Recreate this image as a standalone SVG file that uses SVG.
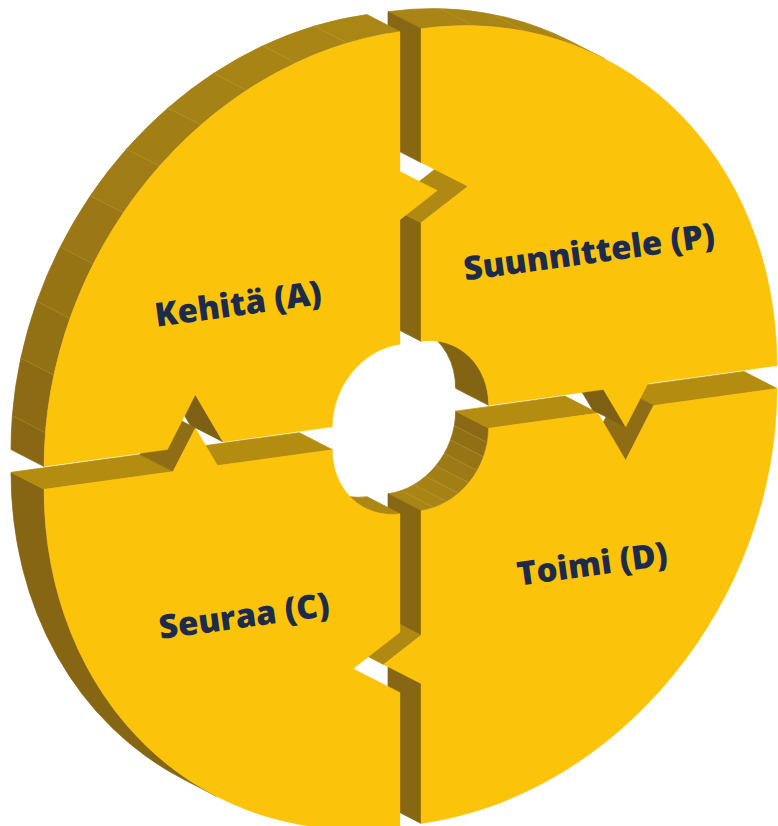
<svg xmlns="http://www.w3.org/2000/svg" width="778" height="826" viewBox="0 0 778 826">
<style>
.fr{fill:#FCC30B;stroke:#FCC30B;stroke-width:0.4px;vector-effect:non-scaling-stroke}
.sd{stroke-width:0.7px;vector-effect:non-scaling-stroke;stroke-linejoin:round}
.dk{fill:#876614;stroke:#876614}
.dd{fill:#7E6014;stroke:#7E6014}
.md{fill:#8F6D14;stroke:#8F6D14}
.gd{fill:#B38C10;stroke:#B38C10}
.gt{fill:#AF8911;stroke:#AF8911}
.pi{fill:#836413;stroke:#836413}
.ci{fill:#AC8714;stroke:#AC8714}
.po{fill:#A98515;stroke:#A98515}
.co{fill:#866513;stroke:#866513}
.fl{fill:none;stroke:#D2B257;stroke-opacity:0.45;stroke-width:0.6px;vector-effect:non-scaling-stroke}
.lbl{font-family:"Open Sans","Noto Sans","Liberation Sans",sans-serif;font-weight:800;font-size:33px;fill:#1C2B4A;text-anchor:middle;dominant-baseline:central}
</style>
<rect width="778" height="826" fill="#FFFFFF"/>

<g id="node-D">
 <g transform="matrix(3.56,-0.49,0,3.86,410.5,427.5) translate(2.95,2.95)">
  <path class="sd" fill="#8A6914" stroke="#8A6914" d="M19,0 A19,19 0 0 1 18.64,3.71 L9.37,-1.87 A19,19 0 0 0 9.73,-5.58 Z"/>
  <path class="sd" fill="#916F14" stroke="#916F14" d="M18.64,3.71 A19,19 0 0 1 17.55,7.27 L8.28,1.69 A19,19 0 0 0 9.37,-1.87 Z"/>
  <path class="sd" fill="#977515" stroke="#977515" d="M17.55,7.27 A19,19 0 0 1 15.80,10.56 L6.53,4.98 A19,19 0 0 0 8.28,1.69 Z"/>
  <path class="sd" fill="#9D7A15" stroke="#9D7A15" d="M15.80,10.56 A19,19 0 0 1 13.43,13.43 L4.16,7.85 A19,19 0 0 0 6.53,4.98 Z"/>
  <path class="sd" fill="#A27F15" stroke="#A27F15" d="M13.43,13.43 A19,19 0 0 1 10.56,15.80 L1.29,10.22 A19,19 0 0 0 4.16,7.85 Z"/>
  <path class="sd" fill="#A68215" stroke="#A68215" d="M10.56,15.80 A19,19 0 0 1 7.27,17.55 L-2.00,11.97 A19,19 0 0 0 1.29,10.22 Z"/>
  <path class="sd" fill="#A88515" stroke="#A88515" d="M7.27,17.55 A19,19 0 0 1 3.71,18.64 L-5.56,13.06 A19,19 0 0 0 -2.00,11.97 Z"/>
  <path class="sd" fill="#AA8615" stroke="#AA8615" d="M3.71,18.64 A19,19 0 0 1 0,19 L-9.27,13.42 A19,19 0 0 0 -5.56,13.06 Z"/>
  <path class="fl" d="M18.64,3.71 L9.37,-1.87 M17.55,7.27 L8.28,1.69 M15.80,10.56 L6.53,4.98 M13.43,13.43 L4.16,7.85 M10.56,15.80 L1.29,10.22 M7.27,17.55 L-2.00,11.97 M3.71,18.64 L-5.56,13.06"/>
  <path class="sd gd" d="M19,0 L49.7,0 L40.43,-5.58 L9.73,-5.58 Z"/>
  <path class="sd gd" d="M65.3,0 L100,0 L90.73,-5.58 L56.03,-5.58 Z"/>
  <path class="sd md" d="M57.5,13.2 L65.3,0 L56.03,-5.58 L48.23,7.62 Z"/>
  <path class="sd dk" d="M0,63.75 L0,100 L-9.27,94.42 L-9.27,58.17 Z"/>
  <path class="sd dk" d="M0,19 L0,51.25 L-9.27,45.67 L-9.27,13.42 Z"/>
  <path class="sd gt" d="M0,51.25 L-10.5,57.5 L-19.77,51.92 L-9.27,45.67 Z"/>
  <path class="fr" d="M19,0 L49.7,0 L57.5,13.2 L65.3,0 L100,0 A100,100 0 0 1 0,100 L0,63.75 L-10.5,57.5 L0,51.25 L0,19 A19,19 0 0 0 19,0 Z"/>
 </g>
 <text class="lbl" transform="translate(592,563) rotate(-7.8)">Toimi (D)</text>
</g>

<g id="node-P">
 <g transform="matrix(3.56,-0.49,0,3.86,410.5,427.5) translate(2.95,-2.95)">
  <path class="sd po" d="M0,-100 A100,100 0 0 1 51.57,-85.67 L42.30,-91.25 A100,100 0 0 0 -9.27,-105.58 Z"/>
  <path class="fl" d="M14.78,-98.90 L5.51,-104.48 M29.24,-95.63 L19.97,-101.21 M43.05,-90.26 L33.78,-95.84"/>
  <path class="sd dk" d="M0,-100 L0,-65.3 L-9.27,-70.88 L-9.27,-105.58 Z"/>
  <path class="sd dk" d="M0,-49.7 L0,-19 L-9.27,-24.58 L-9.27,-55.28 Z"/>
  <path class="sd gt" d="M13.2,-57.5 L0,-49.7 L-9.27,-55.28 L3.93,-63.08 Z"/>
  <path class="sd dd" d="M57.5,10.5 L51.25,0 L41.98,-5.58 L48.23,4.92 Z"/>
  <path class="sd pi" d="M9.80,-16.28 A19,19 0 0 1 19,0 L9.73,-5.58 A19,19 0 0 0 0.53,-21.86 Z"/>
  <path class="fr" d="M0,-100 A100,100 0 0 1 100,0 L63.75,0 L57.5,10.5 L51.25,0 L19,0 A19,19 0 0 0 0,-19 L0,-49.7 L13.2,-57.5 L0,-65.3 Z"/>
 </g>
 <text class="lbl" transform="translate(589,251) rotate(-7.8)">Suunnittele (P)</text>
</g>

<g id="node-C">
 <g transform="matrix(3.56,-0.49,0,3.86,410.5,427.5) translate(-2.95,2.95)">
  <path class="sd co" d="M-51.57,85.67 A100,100 0 0 1 -100,0 L-109.27,-5.58 A100,100 0 0 0 -60.84,80.09 Z"/>
  <path class="sd gd" d="M-51.25,0 L-19,0 L-28.27,-5.58 L-60.52,-5.58 Z"/>
  <path class="sd gd" d="M-100,0 L-63.75,0 L-73.02,-5.58 L-109.27,-5.58 Z"/>
  <path class="sd md" d="M-63.75,0 L-57.5,-10.5 L-66.77,-16.08 L-73.02,-5.58 Z"/>
  <path class="sd ci" d="M0,19 A19,19 0 0 1 -9.80,16.28 L-19.07,10.70 A19,19 0 0 0 -9.27,13.42 Z"/>
  <path class="fr" d="M-19,0 A19,19 0 0 0 0,19 L0,49.7 L-13.2,57.5 L0,65.3 L0,100 A100,100 0 0 1 -100,0 L-63.75,0 L-57.5,-10.5 L-51.25,0 Z"/>
 </g>
 <text class="lbl" transform="translate(244,615) rotate(-7.8)">Seuraa (C)</text>
</g>

<g id="node-A">
 <g transform="matrix(3.56,-0.49,0,3.86,410.5,427.5) translate(-2.95,-2.95)">
  <path class="sd" fill="#AA8615" stroke="#AA8615" d="M0,-100 A100,100 0 0 0 -14.78,-98.90 L-24.05,-104.48 A100,100 0 0 1 -9.27,-105.58 Z"/>
  <path class="sd" fill="#A98515" stroke="#A98515" d="M-14.78,-98.90 A100,100 0 0 0 -29.24,-95.63 L-38.51,-101.21 A100,100 0 0 1 -24.05,-104.48 Z"/>
  <path class="sd" fill="#A88415" stroke="#A88415" d="M-29.24,-95.63 A100,100 0 0 0 -43.05,-90.26 L-52.32,-95.84 A100,100 0 0 1 -38.51,-101.21 Z"/>
  <path class="sd" fill="#A58215" stroke="#A58215" d="M-43.05,-90.26 A100,100 0 0 0 -55.92,-82.90 L-65.19,-88.48 A100,100 0 0 1 -52.32,-95.84 Z"/>
  <path class="sd" fill="#A27F15" stroke="#A27F15" d="M-55.92,-82.90 A100,100 0 0 0 -67.56,-73.73 L-76.83,-79.31 A100,100 0 0 1 -65.19,-88.48 Z"/>
  <path class="sd" fill="#9F7C15" stroke="#9F7C15" d="M-67.56,-73.73 A100,100 0 0 0 -77.71,-62.93 L-86.98,-68.51 A100,100 0 0 1 -76.83,-79.31 Z"/>
  <path class="sd" fill="#9B7815" stroke="#9B7815" d="M-77.71,-62.93 A100,100 0 0 0 -86.16,-50.75 L-95.43,-56.33 A100,100 0 0 1 -86.98,-68.51 Z"/>
  <path class="sd" fill="#967414" stroke="#967414" d="M-86.16,-50.75 A100,100 0 0 0 -92.72,-37.46 L-101.99,-43.04 A100,100 0 0 1 -95.43,-56.33 Z"/>
  <path class="sd" fill="#927014" stroke="#927014" d="M-92.72,-37.46 A100,100 0 0 0 -97.24,-23.34 L-106.51,-28.92 A100,100 0 0 1 -101.99,-43.04 Z"/>
  <path class="sd" fill="#8D6B14" stroke="#8D6B14" d="M-97.24,-23.34 A100,100 0 0 0 -99.62,-8.72 L-108.89,-14.30 A100,100 0 0 1 -106.51,-28.92 Z"/>
  <path class="sd" fill="#896714" stroke="#896714" d="M-99.62,-8.72 A100,100 0 0 0 -100,0 L-109.27,-5.58 A100,100 0 0 1 -108.89,-14.30 Z"/>
  <path class="fl" d="M-14.78,-98.90 L-24.05,-104.48 M-29.24,-95.63 L-38.51,-101.21 M-43.05,-90.26 L-52.32,-95.84 M-55.92,-82.90 L-65.19,-88.48 M-67.56,-73.73 L-76.83,-79.31 M-77.71,-62.93 L-86.98,-68.51 M-86.16,-50.75 L-95.43,-56.33 M-92.72,-37.46 L-101.99,-43.04 M-97.24,-23.34 L-106.51,-28.92 M-99.62,-8.72 L-108.89,-14.30"/>
  <path class="sd dd" d="M-57.5,-13.2 L-49.7,0 L-58.97,-5.58 L-66.77,-18.78 Z"/>
  <path class="fr" d="M0,-100 L0,-63.75 L10.5,-57.5 L0,-51.25 L0,-19 A19,19 0 0 0 -19,0 L-49.7,0 L-57.5,-13.2 L-65.3,0 L-100,0 A100,100 0 0 1 0,-100 Z"/>
 </g>
 <text class="lbl" transform="translate(238,303) rotate(-7.8)">Kehitä (A)</text>
</g>
</svg>
